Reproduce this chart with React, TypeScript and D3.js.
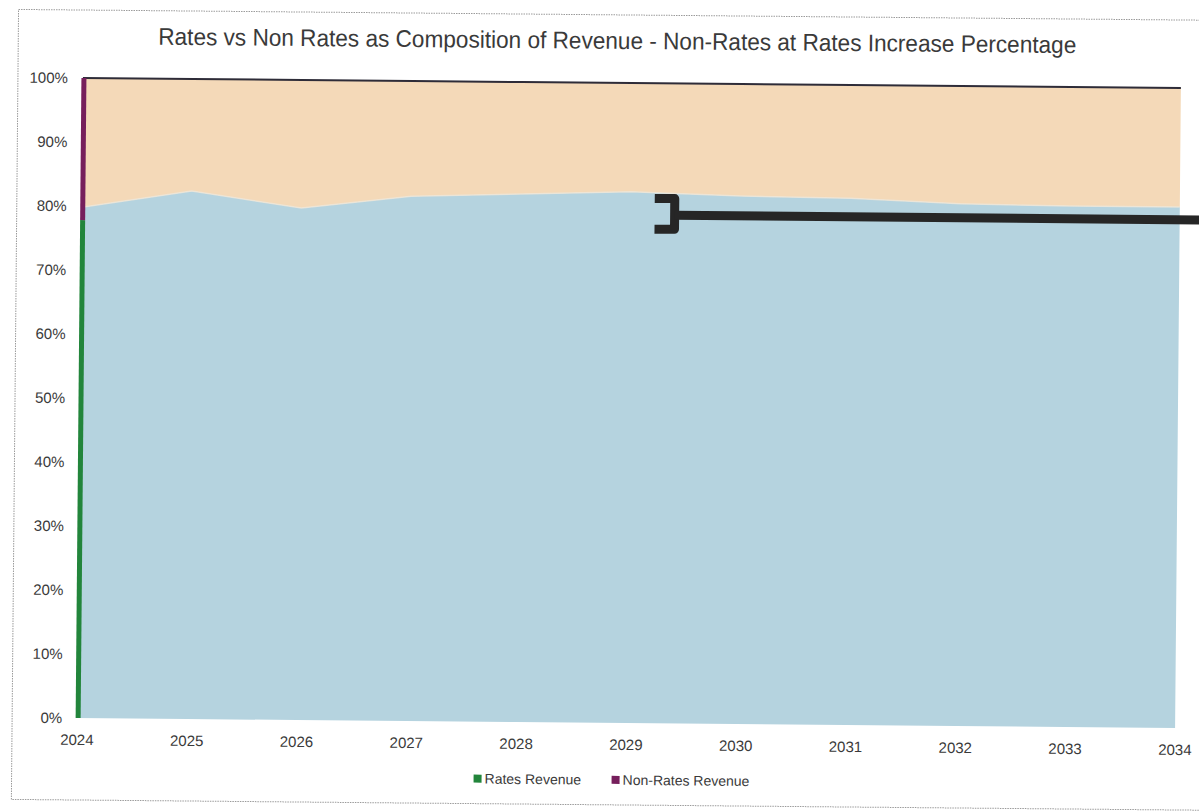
import React from "react";
import * as d3 from "d3";

// ---- data ----
const years = [2024, 2025, 2026, 2027, 2028, 2029, 2030, 2031, 2032, 2033, 2034];
const ratesRevenue = [79.8, 82.5, 80.0, 82.0, 82.5, 83.0, 82.5, 82.3, 81.6, 81.4, 81.4];
const nonRatesRevenue = [20.2, 17.5, 20.0, 18.0, 17.5, 17.0, 17.5, 17.7, 18.4, 18.6, 18.6];
const yTicks = [0, 0.1, 0.2, 0.3, 0.4, 0.5, 0.6, 0.7, 0.8, 0.9, 1.0];
const seriesNames = ["Rates Revenue", "Non-Rates Revenue"];
const seriesColors = ["#b5d3df", "#f4d9b8"];
const legendColors = ["#22853b", "#761f5c"];
const title = "Rates vs Non Rates as Composition of Revenue - Non-Rates at Rates Increase Percentage";
// left-edge series border split and bracket annotation (value space)
const edgeSplit = 0.778;
const annotation = { year: 2029.4, top: 0.82, mid: 0.794, bottom: 0.772 };

const W = 1199;
const H = 811;
const plot = { left: 80, right: 1178, top: 83, bottom: 723 };
const ROT = 0.52; // scan tilt, degrees
const CX = 629;
const CY = 403;

export default function App() {
  const x = d3.scaleLinear().domain([years[0], years[years.length - 1]]).range([plot.left, plot.right]);
  const y = d3.scaleLinear().domain([0, 1]).range([plot.bottom, plot.top]);

  const table = years.map((yr, i) => ({ year: yr, rates: ratesRevenue[i], nonRates: nonRatesRevenue[i] }));
  const stack = d3.stack<any>().keys(["rates", "nonRates"]).offset(d3.stackOffsetExpand);
  const layers = stack(table);

  const area = d3
    .area<any>()
    .x((d) => x(d.data.year))
    .y0((d) => y(d[0]))
    .y1((d) => y(d[1]))
    .curve(d3.curveLinear);

  const boundary = d3
    .line<any>()
    .x((d) => x(d.data.year))
    .y((d) => y(d[1]))
    .curve(d3.curveLinear);

  const textColor = "#3a3a3a";
  const font = "'Liberation Sans', Arial, sans-serif";

  const ax = x(annotation.year);
  const armLen = 20;
  const bracketPath = `M${ax - armLen},${y(annotation.top)} H${ax} V${y(annotation.bottom)} H${ax - armLen}`;
  const linePath = `M${ax},${y(annotation.mid)} H${W + 30}`;

  const legendX = [477, 615];

  return (
    <svg
      width={W}
      height={H}
      style={{ position: "absolute", left: 0, top: 0, background: "#fff" }}
      fontFamily={font}
    >
      <g transform={`rotate(${ROT} ${CX} ${CY})`}>
        {/* chart frame */}
        <rect x={15} y={15} width={1200} height={790} fill="none" stroke="#9a9a9a" strokeWidth={1} strokeDasharray="1.5 1" />

        {/* title */}
        <text
          x={614}
          y={49}
          textAnchor="middle"
          fontSize={24}
          fill={textColor}
          textLength={918}
          lengthAdjust="spacingAndGlyphs"
        >
          {title}
        </text>

        {/* areas */}
        {layers.map((layer, i) => (
          <path key={seriesNames[i]} d={area(layer) || ""} fill={seriesColors[i]} />
        ))}
        <path d={boundary(layers[0]) || ""} fill="none" stroke="#eee6d8" strokeWidth={1.5} opacity={0.8} />

        {/* top line */}
        <path d={boundary(layers[1]) || ""} fill="none" stroke="#2e2c38" strokeWidth={2} />

        {/* left edge series borders */}
        <line x1={x(years[0]) + 1} x2={x(years[0]) + 1} y1={y(0)} y2={y(edgeSplit)} stroke={legendColors[0]} strokeWidth={5} />
        <line x1={x(years[0]) + 1} x2={x(years[0]) + 1} y1={y(edgeSplit)} y2={y(1)} stroke={legendColors[1]} strokeWidth={5} />

        {/* y axis labels */}
        {yTicks.map((t) => (
          <text key={t} x={65} y={y(t)} dy="0.35em" textAnchor="end" fontSize={15} fill={textColor}>
            {d3.format(".0%")(t)}
          </text>
        ))}

        {/* x axis labels */}
        {years.map((yr) => (
          <text key={yr} x={x(yr)} y={plot.bottom + 27} textAnchor="middle" fontSize={15} fill={textColor}>
            {yr}
          </text>
        ))}

        {/* bracket annotation */}
        <path d={bracketPath} fill="none" stroke="#262626" strokeWidth={9} strokeLinejoin="round" />
        <path d={linePath} fill="none" stroke="#262626" strokeWidth={9} />

        {/* legend */}
        {seriesNames.map((name, i) => (
          <g key={name} transform={`translate(${legendX[i]},780)`}>
            <rect x={0} y={-4} width={8} height={8} fill={legendColors[i]} />
            <text x={11} y={0} dy="0.35em" fontSize={14} fill={textColor}>
              {name}
            </text>
          </g>
        ))}
      </g>
    </svg>
  );
}
